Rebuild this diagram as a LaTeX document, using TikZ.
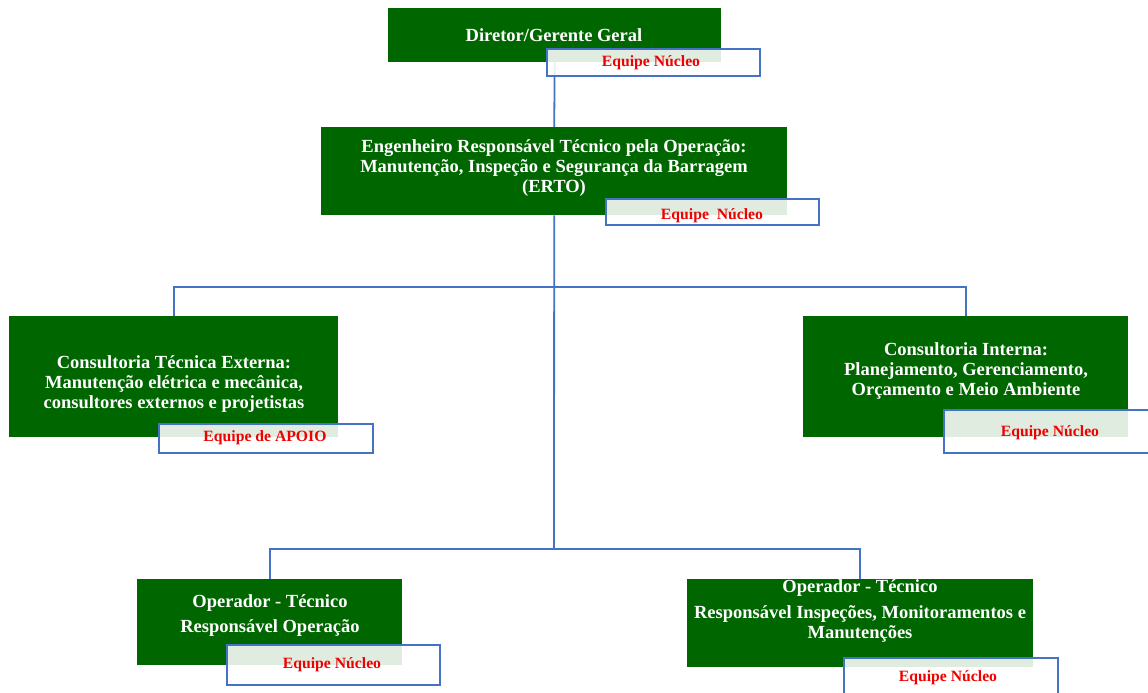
\documentclass[tikz,border=0pt]{standalone}
\usepackage{fontspec}
\setmainfont{Liberation Serif}
\definecolor{boxgreen}{RGB}{0,102,0}
\definecolor{lineblue}{RGB}{68,114,196}
\definecolor{labred}{RGB}{240,0,0}
\begin{document}
\begin{tikzpicture}[x=1pt,y=-1pt,
  greenbox/.style={fill=boxgreen,draw=none,inner sep=0pt,anchor=north west},
  boxtext/.style={text=white,font=\bfseries\fontsize{18.5}{20}\selectfont,align=center,inner sep=0pt},
  tag/.style={draw=lineblue,line width=1.8pt,fill=white,fill opacity=0.88,inner sep=0pt,anchor=north west},
  tagtext/.style={text=labred,font=\bfseries\fontsize{15.7}{17}\selectfont,inner sep=0pt,yshift=-2pt},
  conn/.style={draw=lineblue,line width=1.8pt}]
\useasboundingbox (0,0) rectangle (1148,693);
\fill[white] (0,0) rectangle (1148,693);
% green boxes
\node[greenbox,minimum width=333pt,minimum height=54pt] (b1) at (388,8) {};
\node[greenbox,minimum width=466pt,minimum height=88pt] (b2) at (321,127) {};
\node[greenbox,minimum width=329pt,minimum height=121pt] (b3) at (9,316) {};
\node[greenbox,minimum width=325pt,minimum height=121pt] (b4) at (803,316) {};
\node[greenbox,minimum width=265pt,minimum height=86pt] (b5) at (137,579) {};
\node[greenbox,minimum width=346pt,minimum height=88pt] (b6) at (687,579) {};
% connectors
\coordinate (j2) at (554,549);
\draw[conn] (b1.south) -- (b2.north);
\draw[conn] (b2.south) -- (j2);
\draw[conn] (b3.north) -- ++(0,-29) -| (b4.north);
\draw[conn] (b5.north) -- ++(0,-30) -| (b6.north);
% box texts
\node[boxtext] (t1) at (554,35) {Diretor/Gerente Geral};
\node[boxtext] (t2) at (554,168) {Engenheiro Responsável Técnico pela Operação:\\Manutenção, Inspeção e Segurança da Barragem\\(ERTO)};
\node[boxtext] (t3) at (174,384) {Consultoria Técnica Externa:\\Manutenção elétrica e mecânica,\\consultores externos e projetistas};
\node[boxtext] (t4) at (966,371) {Consultoria Interna:\\Planejamento, Gerenciamento,\\Orçamento e Meio Ambiente};
\node[boxtext] (t5) at (270,616) {Operador - Técnico\\[5pt]Responsável Operação};
\node[boxtext] (t6) at (860,611) {Operador - Técnico\\[6pt]Responsável Inspeções, Monitoramentos e\\Manutenções};
% tags
\node[tag,minimum width=213pt,minimum height=27pt] (l1) at (546,48) {};
\node[tag,minimum width=213pt,minimum height=26pt] (l2) at (605,198) {};
\node[tag,minimum width=214pt,minimum height=29pt] (l3) at (158,423) {};
\node[tag,minimum width=210pt,minimum height=43pt] (l4) at (943,409) {};
\node[tag,minimum width=213pt,minimum height=40pt] (l5) at (226,644) {};
\node[tag,minimum width=214pt,minimum height=45pt] (l6) at (843,657) {};
\node[tagtext] (x1) at (651,61) {Equipe Núcleo};
\node[tagtext] (x2) at (712,214) {Equipe\ \ Núcleo};
\node[tagtext] (x3) at (265,436) {Equipe de APOIO};
\node[tagtext] (x4) at (1050,431) {Equipe Núcleo};
\node[tagtext] (x5) at (332,663) {Equipe Núcleo};
\node[tagtext] (x6) at (948,676) {Equipe Núcleo};
\end{tikzpicture}
\end{document}
